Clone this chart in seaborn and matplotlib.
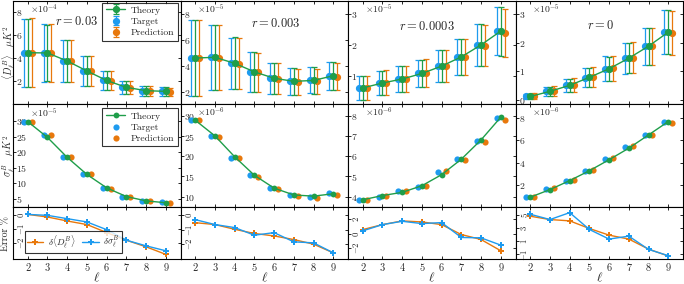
import numpy as np
import pandas as pd
import matplotlib
matplotlib.use("Agg")
import matplotlib.pyplot as plt
import seaborn as sns

# ---------------- data ----------------
ell = [2, 3, 4, 5, 6, 7, 8, 9]
r_labels = ["0.03", "0.003", "0.0003", "0"]
d_exp = [-4, -5, -5, -5]      # exponent of <D_l^B> panels
s_exp = [-5, -6, -6, -6]      # exponent of sigma_l^B panels

# <D_l^B> (mantissa)
d_theory_003 = [4.49, 4.47, 3.77, 2.90, 2.07, 1.47, 1.18, 1.12]
d_target_003 = [4.49, 4.47, 3.77, 2.90, 2.07, 1.47, 1.18, 1.12]
d_pred_003 = [4.50, 4.46, 3.75, 2.88, 2.05, 1.44, 1.15, 1.09]
d_theory_0003 = [4.61, 4.66, 4.20, 3.54, 3.05, 2.81, 2.88, 3.24]
d_target_0003 = [4.62, 4.67, 4.21, 3.54, 3.05, 2.80, 2.88, 3.25]
d_pred_0003 = [4.60, 4.64, 4.17, 3.50, 3.00, 2.76, 2.82, 3.17]
d_theory_00003 = [0.60, 0.76, 0.89, 1.07, 1.31, 1.61, 2.00, 2.45]
d_target_00003 = [0.60, 0.76, 0.89, 1.07, 1.30, 1.60, 1.99, 2.45]
d_pred_00003 = [0.60, 0.77, 0.90, 1.08, 1.32, 1.60, 1.97, 2.39]
d_theory_0 = [0.12, 0.30, 0.51, 0.79, 1.09, 1.46, 1.88, 2.37]
d_target_0 = [0.12, 0.30, 0.51, 0.78, 1.09, 1.45, 1.88, 2.37]
d_pred_0 = [0.13, 0.31, 0.53, 0.80, 1.11, 1.47, 1.88, 2.34]

# sigma_l^B (mantissa)
s_theory_003 = [29.8, 24.7, 18.3, 12.8, 8.5, 5.7, 4.3, 3.7]
s_target_003 = [29.8, 25.4, 18.3, 13.0, 8.5, 5.7, 4.3, 3.9]
s_pred_003 = [29.8, 25.4, 18.3, 13.0, 8.2, 5.5, 4.15, 3.6]
s_theory_0003 = [29.0, 25.1, 19.9, 15.3, 12.1, 10.4, 10.1, 10.7]
s_target_0003 = [29.0, 25.1, 19.7, 15.3, 12.1, 10.5, 10.0, 10.8]
s_pred_0003 = [29.0, 24.9, 19.5, 14.9, 11.9, 10.25, 9.75, 10.5]
s_theory_00003 = [3.84, 4.05, 4.21, 4.54, 5.09, 5.86, 6.82, 7.95]
s_target_00003 = [3.84, 4.00, 4.26, 4.49, 5.20, 5.89, 6.77, 7.92]
s_pred_00003 = [3.84, 4.05, 4.30, 4.54, 5.25, 5.83, 6.72, 7.79]
s_theory_0 = [0.91, 1.59, 2.39, 3.27, 4.25, 5.28, 6.46, 7.65]
s_target_0 = [0.91, 1.65, 2.39, 3.27, 4.31, 5.34, 6.46, 7.65]
s_pred_0 = [0.97, 1.71, 2.48, 3.36, 4.37, 5.43, 6.43, 7.56]

# Error %
errD_003 = [0.07, -0.12, -0.41, -0.67, -1.25, -1.81, -2.29, -2.84]
errS_003 = [0.07, 0.00, -0.24, -0.48, -1.04, -1.81, -2.22, -2.58]
errD_0003 = [-0.51, -0.64, -0.97, -1.26, -1.43, -1.68, -2.00, -2.60]
errS_0003 = [-0.30, -0.64, -0.85, -1.38, -1.20, -1.84, -1.91, -2.60]
errD_00003 = [0.55, 1.24, 1.75, 1.61, 1.24, -0.14, -0.83, -2.39]
errS_00003 = [0.37, 1.24, 1.70, 1.38, 1.52, -0.55, -0.60, -1.61]
errD_0 = [4.85, 4.34, 4.14, 2.97, 1.95, 1.35, -0.18, -1.24]
errS_0 = [5.15, 4.34, 5.40, 2.82, 1.35, 1.80, -0.23, -1.19]

d_theory = [d_theory_003, d_theory_0003, d_theory_00003, d_theory_0]
d_target = [d_target_003, d_target_0003, d_target_00003, d_target_0]
d_pred = [d_pred_003, d_pred_0003, d_pred_00003, d_pred_0]
s_theory = [s_theory_003, s_theory_0003, s_theory_00003, s_theory_0]
s_target = [s_target_003, s_target_0003, s_target_00003, s_target_0]
s_pred = [s_pred_003, s_pred_0003, s_pred_00003, s_pred_0]
errD = [errD_003, errD_0003, errD_00003, errD_0]
errS = [errS_003, errS_0003, errS_00003, errS_0]

top_ylim = [(0, 9), (1.05, 9), (0.07, 3.43), (-0.15, 3.46)]
mid_ylim = [(2.2, 35.4), (7.3, 33.0), (3.46, 8.6), (0.0, 9.2)]
bot_ylim = [(-3.18, 0.58), (-3.03, 0.55), (-3.54, 3.63), (-1.7, 6.2)]
top_yticks = [[2, 4, 6, 8], [2, 4, 6, 8], [1, 2, 3], [0, 1, 2, 3]]
mid_yticks = [[5, 10, 15, 20, 25, 30], [10, 15, 20, 25, 30], [4, 5, 6, 7, 8], [2, 4, 6, 8]]
bot_yticks = [[-2, -1, 0], [-2, -1, 0], [-2, 0, 2], [-1, 1, 3, 5]]
r_pos = [(0.38, 0.80), (0.57, 0.78), (0.47, 0.75), (0.51, 0.76)]

# ---------------- style ----------------
sns.set_theme(style="ticks")
plt.rcParams.update({
    "font.family": "serif",
    "font.serif": ["cmr10", "DejaVu Serif"],
    "mathtext.fontset": "cm",
    "axes.formatter.use_mathtext": True,
    "axes.unicode_minus": True,
    "axes.edgecolor": "black",
    "axes.linewidth": 0.8,
})

C_TH = "#1f9e4a"
C_TG = "#1e9bef"
C_PR = "#e8780c"
off = 0.2

fig = plt.figure(figsize=(6.84, 2.84), dpi=100)
L, R, T, B = 13 / 684, 683 / 684, 1 - 1 / 284, 25 / 284
gs = fig.add_gridspec(3, 4, height_ratios=[2, 2, 1], hspace=0, wspace=0,
                      left=L, right=R, top=T, bottom=B)

x = np.array(ell, dtype=float)

for j in range(4):
    ax1 = fig.add_subplot(gs[0, j])
    ax2 = fig.add_subplot(gs[1, j])
    ax3 = fig.add_subplot(gs[2, j])
    fac = 10.0 ** (s_exp[j] - d_exp[j])

    # ---- top row: <D_l^B> with error bars ----
    eb = dict(capsize=2.5, elinewidth=0.9, capthick=0.9, ms=4.2)
    ax1.errorbar(x - off, d_target[j], yerr=np.array(s_target[j]) * fac, fmt="o",
                 color=C_TG, ecolor=C_TG, label="Target", zorder=3, **eb)
    ax1.errorbar(x, d_theory[j], yerr=np.array(s_theory[j]) * fac, fmt="o-",
                 color=C_TH, ecolor=C_TH, lw=1.0, label="Theory", zorder=4, **eb)
    ax1.errorbar(x + off, d_pred[j], yerr=np.array(s_pred[j]) * fac, fmt="o",
                 color=C_PR, ecolor=C_PR, label="Prediction", zorder=3, **eb)
    ax1.set_ylim(*top_ylim[j])
    ax1.set_yticks(top_yticks[j])
    ax1.text(0.1, 0.985, r"$\times10^{%d}$" % d_exp[j], transform=ax1.transAxes,
             ha="left", va="top", fontsize=7)
    ax1.text(r_pos[j][0], r_pos[j][1], r"$r=%s$" % r_labels[j], transform=ax1.transAxes,
             ha="center", va="center", fontsize=9)

    # ---- middle row: sigma_l^B ----
    dfm = pd.DataFrame({"ell": x, "th": s_theory[j], "tg": s_target[j], "pr": s_pred[j]})
    sns.lineplot(data=dfm, x="ell", y="th", color=C_TH, lw=1.0, marker="o", ms=4.2,
                 markeredgewidth=0, ax=ax2, label="Theory", zorder=4)
    sns.scatterplot(x=dfm["ell"] - off, y=dfm["tg"], color=C_TG, s=20, linewidth=0,
                    ax=ax2, label="Target", zorder=3)
    sns.scatterplot(x=dfm["ell"] + off, y=dfm["pr"], color=C_PR, s=20, linewidth=0,
                    ax=ax2, label="Prediction", zorder=3)
    ax2.set_ylim(*mid_ylim[j])
    ax2.set_yticks(mid_yticks[j])
    ax2.text(0.1, 0.985, r"$\times10^{%d}$" % s_exp[j], transform=ax2.transAxes,
             ha="left", va="top", fontsize=7)

    # ---- bottom row: error % ----
    dfe = pd.DataFrame({"ell": x, "eD": errD[j], "eS": errS[j]})
    sns.lineplot(data=dfe, x="ell", y="eD", color=C_PR, lw=1.0, marker="P", ms=4.5,
                 markeredgewidth=0, ax=ax3, label=r"$\delta\langle D_\ell^B\rangle$", zorder=3)
    sns.lineplot(data=dfe, x="ell", y="eS", color=C_TG, lw=1.0, marker="P", ms=4.5,
                 markeredgewidth=0, ax=ax3, label=r"$\delta\sigma_\ell^B$", zorder=4)
    ax3.set_ylim(*bot_ylim[j])
    ax3.set_yticks(bot_yticks[j])

    for ax in (ax1, ax2, ax3):
        ax.set_xlim(1.25, 9.75)
        ax.set_xticks(ell)
        ax.tick_params(axis="both", which="both", direction="in", top=True, right=True,
                       length=2.5, width=0.7, labelsize=7)
        ax.tick_params(axis="y", pad=-2.5)
        ax.set_ylabel("")
        ax.set_xlabel("")
        for lab in ax.get_yticklabels():
            lab.set_horizontalalignment("left")
    for ax in (ax1, ax2):
        ax.tick_params(axis="x", labelbottom=False)
    ax3.set_xticks(ell)
    ax3.set_xticklabels([str(v) for v in ell])
    ax3.tick_params(axis="x", labelsize=7.5, pad=3)
    ax3.tick_params(axis="y", labelsize=6.3)
    for lab in ax3.get_yticklabels():
        lab.set_rotation(90)
        lab.set_verticalalignment("center")
    ax3.set_xlabel(r"$\ell$", fontsize=9.5, labelpad=-1)

    leg_kw = dict(frameon=True, fancybox=False, edgecolor="black", fontsize=7,
                  borderpad=0.35, labelspacing=0.25, handlelength=2.0, handletextpad=0.6)
    if j == 0:
        h, l = ax1.get_legend_handles_labels()
        order = [l.index("Theory"), l.index("Target"), l.index("Prediction")]
        lg = ax1.legend([h[i] for i in order], [l[i] for i in order], loc="upper right",
                        bbox_to_anchor=(0.985, 0.985), borderaxespad=0, **leg_kw)
        lg.get_frame().set_linewidth(0.8)
        lg = ax2.legend(loc="upper right", bbox_to_anchor=(0.985, 0.96), borderaxespad=0,
                        **leg_kw)
        lg.get_frame().set_linewidth(0.8)
        kw3 = dict(leg_kw)
        kw3.update(fontsize=6.5, borderpad=0.25, handlelength=1.8, handletextpad=0.5)
        lg = ax3.legend(loc="lower left", ncol=2, bbox_to_anchor=(0.07, 0.11),
                        borderaxespad=0, columnspacing=0.8, **kw3)
        lg.get_frame().set_linewidth(0.8)
    else:
        for ax in (ax2, ax3):
            lg = ax.get_legend()
            if lg is not None:
                lg.remove()

# row y-labels placed at the far left edge
row_h = (T - B) / 5.0
fig.text(0.5 / 684, T - row_h * 1.0, r"$\langle D_\ell^B\rangle\quad \mu K^2$", rotation=90,
         ha="left", va="center", fontsize=7.2)
fig.text(0.5 / 684, T - row_h * 3.0, r"$\sigma_\ell^B\quad \mu K^2$", rotation=90,
         ha="left", va="center", fontsize=7.2)
fig.text(0.5 / 684, T - row_h * 4.5, "Error %", rotation=90,
         ha="left", va="center", fontsize=7.2)

fig.savefig("out.png", dpi=100)
